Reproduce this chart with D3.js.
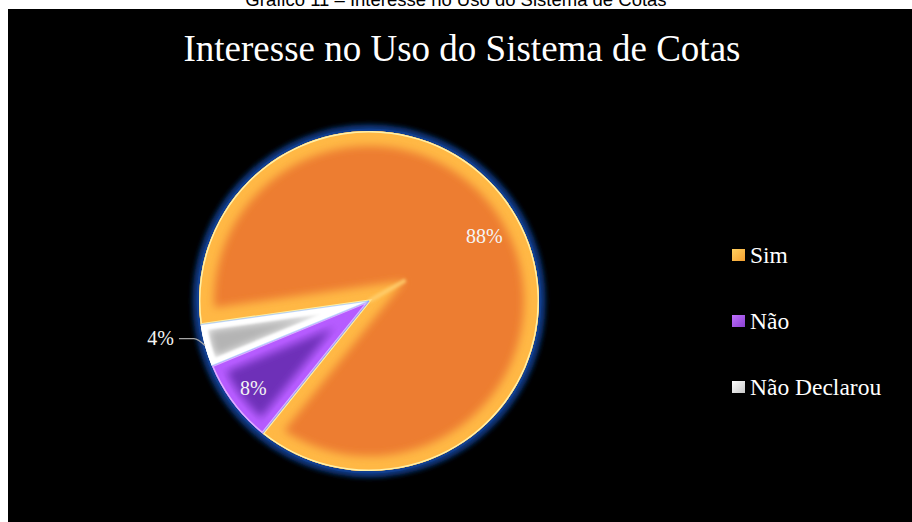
<!DOCTYPE html>
<html>
<head>
<meta charset="utf-8">
<script src="https://cdn.jsdelivr.net/npm/d3@7"></script>
<style>
  html, body { margin: 0; padding: 0; background: #ffffff; }
  svg { display: block; }
  .serif { font-family: "Liberation Serif", "Times New Roman", "DejaVu Serif", serif; }
  .sans { font-family: "Liberation Sans", Arial, "DejaVu Sans", sans-serif; }
</style>
</head>
<body>
<svg id="chart" width="912" height="522"></svg>
<script>
// Survey answers: interest in using the quota system
const categories = ["Sim", "Não", "Não Declarou"];
const values = [88, 8, 4];
const valueLabels = ["88%", "8%", "4%"];
const captionText = "Gráfico 11 – Interesse no Uso do Sistema de Cotas";
const titleText = "Interesse no Uso do Sistema de Cotas";

// Per-slice palette: base fill, bevel band, bright rim
const sliceBase = ["#ED7D31", "#6E30B8", "#B4B4B4"];
const sliceBand = ["#FFB845", "#B65CFF", "#FFFFFF"];
const sliceRim  = ["#FFF0A8", "#E0B0FF", "#FFFFFF"];
const bandWidth = [30, 22, 12];
const legendTop = ["#FFD060", "#C070FF", "#FFFFFF"];
const legendBottom = ["#F5A030", "#8A40D0", "#C8C8C8"];

const W = 912, H = 522;
const svg = d3.select("#chart");
const defs = svg.append("defs");

// white page strip with the figure caption running off the top
svg.append("rect").attr("width", W).attr("height", H).attr("fill", "#ffffff");
svg.append("text")
  .attr("class", "sans")
  .attr("x", 456).attr("y", 6)
  .attr("text-anchor", "middle")
  .attr("font-size", 18.5)
  .attr("fill", "#000")
  .text(captionText);

// black chart area
svg.append("rect").attr("x", 8).attr("y", 9).attr("width", W - 8).attr("height", H - 9).attr("fill", "#000000");

svg.append("text")
  .attr("class", "serif")
  .attr("x", 462).attr("y", 61)
  .attr("text-anchor", "middle")
  .attr("font-size", 37)
  .attr("fill", "#ffffff")
  .text(titleText);

// filters
function blurFilter(id, sd) {
  const f = defs.append("filter").attr("id", id)
    .attr("x", "-20%").attr("y", "-20%").attr("width", "140%").attr("height", "140%");
  f.append("feGaussianBlur").attr("stdDeviation", sd);
}
blurFilter("blurBand", 4);
blurFilter("blurRim", 1.2);
blurFilter("glow", 2.5);
blurFilter("blurStreak", 1.6);

// pie layout
const cx = 369, cy = 301, R = 170;
const start = 262 * Math.PI / 180;
const pie = d3.pie().sort(null).value(d => d).startAngle(start).endAngle(start + 2 * Math.PI);
const arcs = pie(values);
const arc = d3.arc().innerRadius(0).outerRadius(R);

const g = svg.append("g").attr("transform", `translate(${cx},${cy})`);

// dark blue halo around the disc
g.append("circle").attr("r", R + 2).attr("fill", "none")
  .attr("stroke", "#0E3780").attr("stroke-width", 9).attr("filter", "url(#glow)");
g.append("circle").attr("r", R + 1).attr("fill", "none")
  .attr("stroke", "#123F8F").attr("stroke-width", 3);

arcs.forEach((d, i) => {
  const path = arc(d);
  defs.append("clipPath").attr("id", "clip" + i).append("path").attr("d", path);
  const s = g.append("g").attr("clip-path", `url(#clip${i})`);
  s.append("path").attr("d", path).attr("fill", sliceBase[i]);
  const bevel = s.append("g");
  bevel.append("path").attr("d", path).attr("fill", "none")
    .attr("stroke", sliceBand[i]).attr("stroke-width", bandWidth[i])
    .attr("stroke-linejoin", "miter").attr("filter", "url(#blurBand)");
  bevel.append("path").attr("d", path).attr("fill", "none")
    .attr("stroke", sliceBand[i]).attr("stroke-width", 12)
    .attr("filter", "url(#blurRim)");
  bevel.append("path").attr("d", path).attr("fill", "none")
    .attr("stroke", sliceRim[i]).attr("stroke-width", 3);
  // bevel mitre running out from the centre along the slice's bisector
  const mid = (d.startAngle + d.endAngle) / 2;
  if (d.endAngle - d.startAngle > Math.PI) {
    s.append("line")
      .attr("x1", 0).attr("y1", 0)
      .attr("x2", 42 * Math.sin(mid)).attr("y2", -42 * Math.cos(mid))
      .attr("stroke", "#FFD070").attr("stroke-width", 4).attr("stroke-opacity", 0.85)
      .attr("filter", "url(#blurStreak)");
  }
});

// faint blue seams between slices
arcs.forEach(d => {
  const a = d.startAngle;
  g.append("line")
    .attr("x1", 0).attr("y1", 0)
    .attr("x2", R * Math.sin(a)).attr("y2", -R * Math.cos(a))
    .attr("stroke", "#6FA8FF").attr("stroke-opacity", 0.45).attr("stroke-width", 1.2);
});

// data labels
arcs.forEach((d, i) => {
  const mid = (d.startAngle + d.endAngle) / 2;
  const share = values[i] / d3.sum(values);
  if (share >= 0.05) {
    const rr = R * (share > 0.5 ? 0.78 : 0.85);
    g.append("text")
      .attr("class", "serif")
      .attr("x", rr * Math.sin(mid)).attr("y", -rr * Math.cos(mid))
      .attr("dy", "0.35em")
      .attr("text-anchor", "middle")
      .attr("font-size", 20)
      .attr("fill", "#F4F4F4")
      .text(valueLabels[i]);
  } else {
    // outside label with a leader line
    const ex = R * Math.sin(mid), ey = -R * Math.cos(mid);
    const kx = ex - 8, ky = ey - 7;
    const tx = kx - 18;
    g.append("path")
      .attr("d", `M${ex},${ey} Q${kx + 1},${ky} ${kx - 3},${ky} L${tx},${ky}`)
      .attr("fill", "none").attr("stroke", "#A6A6A6").attr("stroke-width", 1.3);
    g.append("text")
      .attr("class", "serif")
      .attr("x", tx - 5).attr("y", ky)
      .attr("dy", "0.3em")
      .attr("text-anchor", "end")
      .attr("font-size", 20)
      .attr("fill", "#F4F4F4")
      .text(valueLabels[i]);
  }
});

// legend
const legendY = d3.scalePoint().domain(categories).range([255, 387]);
categories.forEach((c, i) => {
  const gr = defs.append("linearGradient").attr("id", "lg" + i)
    .attr("x1", 0).attr("y1", 0).attr("x2", 1).attr("y2", 1);
  gr.append("stop").attr("offset", "0%").attr("stop-color", legendTop[i]);
  gr.append("stop").attr("offset", "100%").attr("stop-color", legendBottom[i]);
  const y = legendY(c);
  svg.append("rect").attr("x", 732).attr("y", y - 6).attr("width", 13).attr("height", 12)
    .attr("fill", `url(#lg${i})`);
  svg.append("text")
    .attr("class", "serif")
    .attr("x", 750).attr("y", y + 7.5)
    .attr("font-size", 23.5)
    .attr("fill", "#ffffff")
    .text(c);
});
</script>
</body>
</html>
